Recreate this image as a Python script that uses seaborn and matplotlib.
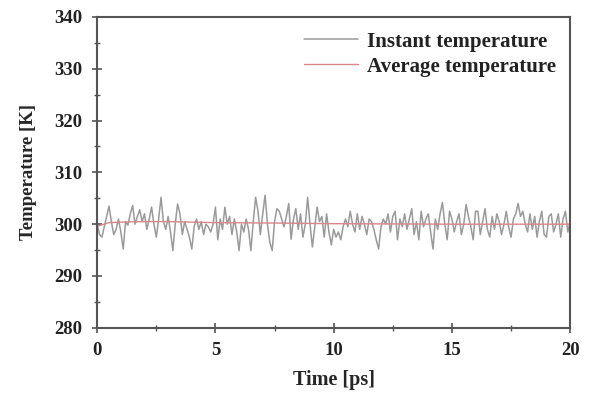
import numpy as np
import pandas as pd
import matplotlib
matplotlib.use("Agg")
import matplotlib.pyplot as plt
import seaborn as sns
from matplotlib.ticker import MultipleLocator

# ---- data ----
time_ps = [round(i * 0.1, 1) for i in range(201)]
instant_temp = [
    300.0, 298.0, 297.5, 299.5, 301.5, 303.5, 300.5, 298.0, 299.0, 301.0,
    298.5, 295.2, 300.5, 299.8, 302.0, 303.6, 300.0, 301.5, 302.8, 300.5,
    302.0, 299.0, 301.0, 303.3, 300.0, 297.5, 301.0, 305.2, 300.5, 299.0,
    301.5, 298.5, 294.9, 300.0, 303.9, 302.0, 298.0, 300.5, 299.0, 297.5,
    295.2, 299.5, 301.0, 299.0, 300.5, 298.0, 300.0, 299.5, 298.5, 300.0,
    303.3, 297.0, 301.0, 299.0, 303.3, 300.0, 301.5, 298.0, 301.0, 298.5,
    294.9, 300.0, 298.5, 301.0, 299.0, 294.9, 300.5, 305.2, 302.5, 298.0,
    302.0, 305.6, 300.0, 296.5, 294.9, 300.5, 303.0, 302.5, 301.0, 299.5,
    301.5, 304.0, 297.1, 301.0, 303.0, 299.0, 302.0, 297.5, 300.0, 305.2,
    300.0, 295.6, 299.5, 303.3, 300.5, 301.5, 297.5, 302.0, 298.5, 296.0,
    299.0, 297.5, 298.5, 297.0, 299.5, 301.0, 299.5, 302.5, 300.0, 298.5,
    302.0, 299.0, 301.5, 300.0, 298.0, 301.0, 300.5, 299.0, 297.0, 295.2,
    299.5, 301.0, 300.0, 302.0, 298.5, 301.5, 302.5, 297.0, 301.0, 299.5,
    302.0, 299.0, 301.0, 303.0, 298.0, 300.5, 297.0, 302.5, 299.5, 301.0,
    302.0, 298.5, 295.2, 301.0, 299.0, 302.0, 304.2, 300.0, 297.0, 302.5,
    301.0, 298.5, 300.5, 302.0, 298.0, 300.0, 303.8, 301.5, 299.5, 297.0,
    302.5, 302.5, 298.0, 300.5, 303.0, 299.0, 297.5, 301.5, 299.0, 302.0,
    300.5, 298.0, 300.0, 302.5, 299.5, 297.5, 301.0, 302.0, 304.0, 301.5,
    302.5, 300.0, 298.5, 302.0, 299.0, 301.5, 297.5, 300.5, 302.5, 298.0,
    297.5, 301.5, 302.0, 298.5, 300.0, 302.0, 297.5, 301.0, 302.5, 298.5,
    300.5,
]
avg_time_ps = [0.0, 0.5, 1.0, 2.0, 3.0, 5.0, 8.0, 10.0, 15.0, 20.0]
avg_temp = [299.6, 300.3, 300.4, 300.5, 300.5, 300.3, 300.2, 300.1, 300.0, 300.0]

x_ticks = [0, 5, 10, 15, 20]
y_ticks = [280, 290, 300, 310, 320, 330, 340]

df_inst = pd.DataFrame({"t": time_ps, "T": instant_temp})
df_avg = pd.DataFrame({"t": avg_time_ps, "T": avg_temp})

sns.set_style("white")
plt.rcParams["font.family"] = ["Liberation Serif", "DejaVu Serif"]
plt.rcParams["font.weight"] = "bold"

fig = plt.figure(figsize=(5.89, 3.94), dpi=100)
ax = fig.add_axes([0.165, 0.168, 0.803, 0.789])

sns.lineplot(data=df_inst, x="t", y="T", ax=ax, color="#9a9a9a", linewidth=1.1,
             label="Instant temperature")
sns.lineplot(data=df_avg, x="t", y="T", ax=ax, color="#d9868c", linewidth=1.0,
             label="Average temperature")

ax.set_xlim(0, 20)
ax.set_ylim(280, 340)
ax.set_xticks(x_ticks)
ax.set_yticks(y_ticks)
ax.xaxis.set_minor_locator(MultipleLocator(2.5))
ax.yaxis.set_minor_locator(MultipleLocator(5))

ax.set_xlabel("Time [ps]", fontsize=14.5, fontweight="bold")
ax.set_ylabel("Temperature [K]", fontsize=13.5, fontweight="bold")
ax.yaxis.set_label_coords(-0.127, 0.5)
ax.xaxis.set_label_coords(0.5, -0.135)

for sp in ax.spines.values():
    sp.set_color("#555555")
    sp.set_linewidth(1.5)
    sp.set_visible(True)

ax.tick_params(axis="both", which="major", direction="inout", length=7, width=1.2,
               color="#555555", labelsize=13.5)
ax.tick_params(axis="y", which="major", pad=7.5)
ax.tick_params(axis="x", which="major", pad=7)
ax.tick_params(axis="both", which="minor", direction="inout", length=4, width=1.0,
               color="#555555")
ax.tick_params(top=False, right=False, which="both")
ax.tick_params(axis="both", which="both", bottom=True, left=True)
for lab in ax.get_xticklabels() + ax.get_yticklabels():
    lab.set_fontweight("bold")
    lab.set_color("#222222")

leg = ax.legend(loc="upper right", frameon=False, fontsize=15, handlelength=2.6,
                handletextpad=0.4, labelspacing=0.25, borderaxespad=0.3)
for t in leg.get_texts():
    t.set_fontweight("bold")
    t.set_color("#222222")

fig.savefig("out.png", dpi=100)
